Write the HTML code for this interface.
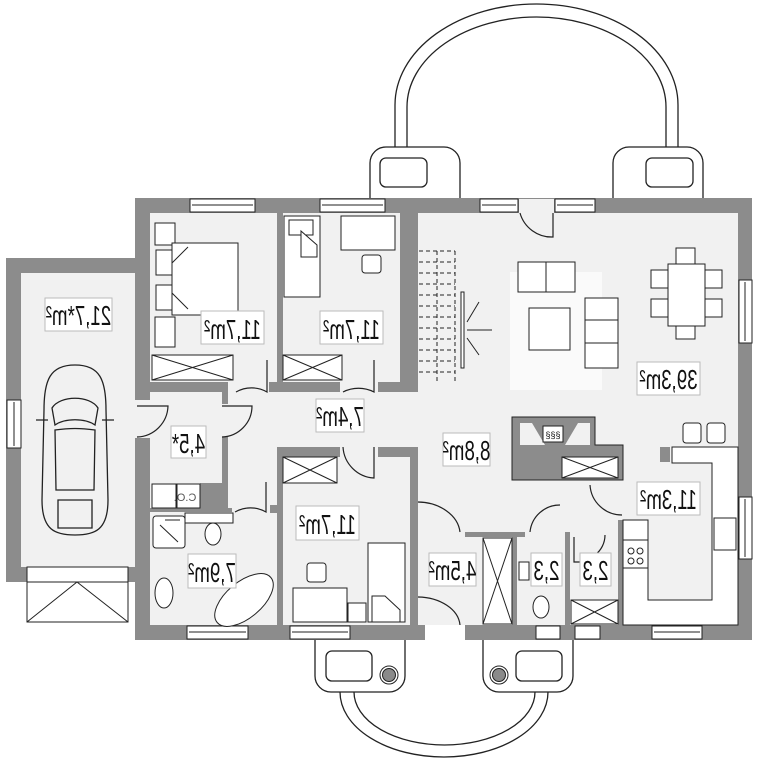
<!DOCTYPE html>
<html><head><meta charset="utf-8"><style>
html,body{margin:0;padding:0;background:#fff;}
svg{display:block;}
text{font-family:"Liberation Sans Narrow","Liberation Sans",sans-serif;font-weight:normal;font-size:24px;fill:#111;}
</style></head><body>
<svg width="760" height="760" viewBox="0 0 760 760" xmlns="http://www.w3.org/2000/svg">
<rect width="760" height="760" fill="#fff"/>
<g fill="none" stroke="#222" stroke-width="1.3">
<path d="M395 147 V105 A141.5 101 0 0 1 678 105 V147"/>
<path d="M407 147 V107 A129.5 90 0 0 1 666 107 V147"/>
<path d="M340 692 A104 65 0 0 0 548 692"/>
<path d="M354 692 A90.5 53 0 0 0 535 692"/>
</g>
<g fill="#fff" stroke="#222" stroke-width="1.3">
<path d="M370 198 V163 a16 16 0 0 1 16 -16 h58 a16 16 0 0 1 16 16 V198"/>
<rect x="380" y="158" width="47" height="29" rx="6"/>
<path d="M613 198 V163 a16 16 0 0 1 16 -16 h58 a16 16 0 0 1 16 16 V198"/>
<rect x="646" y="158" width="47" height="29" rx="6"/>
<path d="M315 640 V676 a16 16 0 0 0 16 16 h58 a16 16 0 0 0 16 -16 V640"/>
<rect x="326" y="651" width="46" height="30" rx="6"/>
<path d="M483 640 V676 a16 16 0 0 0 16 16 h58 a16 16 0 0 0 16 -16 V640"/>
<rect x="516" y="651" width="46" height="30" rx="6"/>
</g>
<circle cx="389" cy="675" r="9" fill="#fff" stroke="#222"/><circle cx="389" cy="675" r="6.5" fill="#8a8a8a" stroke="#222"/>
<circle cx="499" cy="675" r="9" fill="#fff" stroke="#222"/><circle cx="499" cy="675" r="6.5" fill="#8a8a8a" stroke="#222"/>
<rect x="6" y="258" width="130" height="324" fill="#8c8c8c"/>
<rect x="135" y="198" width="617" height="442" fill="#8c8c8c"/>
<rect x="21" y="273" width="114" height="294" fill="#f1f1f1"/>
<rect x="150" y="213" width="588" height="412" fill="#f1f1f1"/>
<rect x="510" y="272" width="92" height="118" fill="#fafafa"/>
<g fill="#8c8c8c">
<rect x="277" y="213" width="6" height="179"/>
<rect x="400" y="213" width="18" height="179"/>
<rect x="150" y="382" width="75" height="10"/>
<rect x="222" y="382" width="6" height="22"/>
<rect x="269" y="382" width="71" height="10"/>
<rect x="378" y="382" width="40" height="10"/>
<rect x="135" y="400" width="15" height="38" fill="#f1f1f1"/>
<rect x="222" y="437" width="6" height="47"/>
<rect x="200" y="483" width="28" height="27"/>
<rect x="150" y="508" width="82" height="4"/>
<rect x="270" y="505" width="7" height="8"/>
<rect x="277" y="447" width="63" height="10"/>
<rect x="378" y="447" width="40" height="10"/>
<rect x="277" y="447" width="6" height="178"/>
<rect x="410" y="447" width="8" height="178"/>
<rect x="465" y="532" width="60" height="5"/>
<rect x="512" y="532" width="5" height="93"/>
<rect x="565" y="532" width="5" height="93"/>
<rect x="618" y="520" width="5" height="105"/>
<rect x="660" y="447" width="10" height="15"/>
</g>
<g fill="#fff" stroke="#222" stroke-width="1">
<rect x="190" y="199" width="65" height="13"/><line x1="192" y1="205" x2="253" y2="205"/>
<rect x="320" y="199" width="65" height="13"/><line x1="322" y1="205" x2="383" y2="205"/>
<rect x="480" y="199" width="38" height="13"/><line x1="482" y1="205" x2="516" y2="205"/>
<rect x="555" y="199" width="40" height="13"/><line x1="557" y1="205" x2="593" y2="205"/>
<rect x="739" y="280" width="13" height="63"/><line x1="745" y1="282" x2="745" y2="341"/>
<rect x="739" y="497" width="13" height="62"/><line x1="745" y1="499" x2="745" y2="557"/>
<rect x="7" y="400" width="14" height="48"/><line x1="14" y1="402" x2="14" y2="446"/>
<rect x="187" y="626" width="61" height="13"/><line x1="189" y1="632" x2="246" y2="632"/>
<rect x="290" y="626" width="60" height="13"/><line x1="292" y1="632" x2="348" y2="632"/>
<rect x="536" y="626" width="24" height="13"/>
<rect x="575" y="626" width="25" height="13"/>
<rect x="652" y="626" width="50" height="13"/><line x1="654" y1="632" x2="700" y2="632"/>
</g>
<rect x="519" y="199" width="35" height="14" fill="#f1f1f1"/>
<rect x="425" y="625" width="40" height="15" fill="#fff"/>
<g fill="#fff" stroke="#222" stroke-width="1">
<rect x="27" y="567" width="101" height="15"/>
<rect x="27" y="582" width="101" height="40"/>
<path d="M27 622 L77 582 L128 622" fill="none"/>
</g>
<g fill="none" stroke="#222" stroke-width="1.2">
<path d="M553 213 V237 A33 33 0 0 1 520 213"/>
<path d="M267 360 V392 A31 31 0 0 0 236 392"/>
<path d="M374 360 V392 A34 34 0 0 0 343 392"/>
<path d="M137 406 H168 A32 32 0 0 1 137 437"/>
<path d="M222 406 H252 A31 31 0 0 1 222 437"/>
<path d="M266 482 V512 A31 31 0 0 0 235 512"/>
<path d="M374 447 V478 A33 33 0 0 1 343 447"/>
<path d="M418 502 A43 33 0 0 1 460 532"/>
<path d="M418 597 A43 30 0 0 1 460 625"/>
<path d="M530 532 A30 30 0 0 1 560 505"/>
<path d="M590 485 A32 32 0 0 0 622 515"/>
<path d="M605 535 A25 25 0 0 1 595 555"/>
<path d="M574 537 V562 H582"/>
</g>
<path d="M512 417 H595 V445 H623 V480 H512 Z" fill="#8c8c8c" stroke="#222"/>
<path d="M520 423 H532 L545 445 H565 L578 423 H590 V445 H520 Z" fill="#f1f1f1"/>
<rect x="543" y="426" width="20" height="16" fill="#fff" stroke="#222"/>
<text x="553" y="438" style="font-size:9px;font-weight:normal" text-anchor="middle">§§§</text>
<g fill="#fff" stroke="#222" stroke-width="1">
<rect x="562" y="457" width="56" height="21"/><path d="M562 457 L618 478 M562 478 L618 457"/>
<rect x="152" y="355" width="81" height="25"/><path d="M152 355 L233 380 M152 380 L233 355"/>
<rect x="283" y="355" width="59" height="25"/><path d="M283 355 L342 380 M283 380 L342 355"/>
<rect x="283" y="457" width="54" height="26"/><path d="M283 457 L337 483 M283 483 L337 457"/>
<rect x="483" y="538" width="29" height="86"/><path d="M483 538 L512 624 M512 538 L483 624"/>
<rect x="571" y="600" width="47" height="24"/><path d="M571 600 L618 624 M571 624 L618 600"/>
<path d="M672 447 H738 V625 H623 V520 H648 V600 H712 V463 H672 Z"/>
<rect x="623" y="540" width="25" height="28"/>
<rect x="714" y="518" width="22" height="32"/>
<rect x="683" y="423" width="18" height="20" rx="3"/><rect x="707" y="423" width="18" height="20" rx="3"/>
<rect x="155" y="223" width="20" height="22"/>
<rect x="156" y="250" width="18" height="25"/><rect x="156" y="285" width="18" height="25"/>
<rect x="172" y="243" width="66" height="72"/>
<path d="M188 247 L172 263 V293 L188 309"/>
<rect x="155" y="317" width="20" height="30"/>
<rect x="284" y="216" width="36" height="81"/>
<rect x="289" y="220" width="24" height="15"/>
<path d="M301 231 L317 245 V257 H301 Z"/>
<rect x="341" y="216" width="54" height="34"/>
<rect x="362" y="255" width="19" height="18" rx="3"/>
<rect x="368" y="543" width="37" height="79"/>
<rect x="293" y="588" width="54" height="34"/>
<rect x="307" y="563" width="19" height="19" rx="3"/>
<rect x="348" y="603" width="18" height="19"/>
<path d="M372 596 L385 596 L400 610 V622 H372 Z"/>
<rect x="153" y="516" width="32" height="32" rx="3"/>
<path d="M160 525 L178 542 M165 520 H180"/>
<rect x="185" y="513" width="48" height="10"/>
<ellipse cx="213" cy="534" rx="8" ry="11"/>
<ellipse cx="164" cy="593" rx="9" ry="15"/>
<ellipse cx="244" cy="600" rx="35" ry="18" transform="rotate(-40 244 600)"/>
<rect x="152" y="484" width="24" height="24"/>
<rect x="177" y="484" width="23" height="24"/>
<rect x="519" y="562" width="10" height="18"/>
<ellipse cx="541" cy="607" rx="8" ry="11"/>
<rect x="518" y="262" width="57" height="30"/>
<line x1="546" y1="262" x2="546" y2="292"/>
<rect x="529" y="308" width="41" height="42"/>
<rect x="585" y="298" width="33" height="70"/>
<line x1="585" y1="320" x2="618" y2="320"/><line x1="585" y1="343" x2="618" y2="343"/>
<rect x="668" y="264" width="37" height="62"/>
<rect x="676" y="248" width="19" height="16"/><rect x="676" y="326" width="19" height="13"/>
<rect x="651" y="270" width="17" height="18"/><rect x="651" y="299" width="17" height="18"/>
<rect x="705" y="270" width="17" height="18"/><rect x="705" y="299" width="17" height="18"/>
<rect x="461" y="292" width="3" height="76"/>
</g>
<circle cx="631" cy="551" r="3" fill="none" stroke="#222"/><circle cx="640" cy="551" r="3" fill="none" stroke="#222"/>
<circle cx="631" cy="561" r="3" fill="none" stroke="#222"/><circle cx="640" cy="561" r="3" fill="none" stroke="#222"/>
<g stroke="#222" stroke-width="1" stroke-dasharray="4 3" fill="none">
<path d="M419 251 H455 M419 262 H455 M419 273 H455 M419 284 H455 M419 295 H455 M419 306 H455 M419 317 H455 M419 328 H455 M419 339 H455 M419 350 H455 M419 361 H455 M419 372 H455"/>
<path d="M437 251 V382 M455 251 V382"/>
</g>
<path d="M467 330 H492 M467 322 L479 302 M467 338 L479 355" stroke="#222" fill="none"/>
<g fill="none" stroke="#222" stroke-width="1.3">
<path d="M75 365 C50 365 44 380 44 410 L42 500 C42 530 55 535 75 535 C95 535 108 530 108 500 L106 410 C106 380 100 365 75 365 Z"/>
<path d="M52 408 C60 395 90 395 98 408 L95 425 C85 418 65 418 55 425 Z"/>
<path d="M55 430 C70 428 80 428 95 430 L94 490 L56 490 Z"/>
<path d="M58 500 H92 V528 H58 Z"/>
<path d="M36 420 L48 420 M102 420 L114 420"/>
</g>
<g fill="#fff" stroke="#bbb" stroke-width="1">
<rect x="45" y="298" width="67" height="33"/>
<rect x="201" y="311" width="63" height="33"/>
<rect x="320" y="311" width="63" height="33"/>
<rect x="316" y="399" width="48" height="33"/>
<rect x="171" y="426" width="35" height="32"/>
<rect x="296" y="506" width="63" height="34"/>
<rect x="188" y="554" width="48" height="34"/>
<rect x="443" y="433" width="47" height="33"/>
<rect x="637" y="362" width="63" height="33"/>
<rect x="637" y="482" width="63" height="33"/>
<rect x="429" y="553" width="47" height="33"/>
<rect x="531" y="553" width="31" height="33"/>
<rect x="580" y="553" width="31" height="33"/>
</g>
<g text-anchor="middle">
<text transform="translate(78.5,325) scale(-0.78,1.15)">21,7*m²</text>
<text transform="translate(232.5,339) scale(-0.78,1.15)">11,7m²</text>
<text transform="translate(351.5,339) scale(-0.78,1.15)">11,7m²</text>
<text transform="translate(340,426) scale(-0.78,1.15)">7,4m²</text>
<text transform="translate(188.5,453) scale(-0.78,1.15)">4,5*</text>
<text transform="translate(327.5,534) scale(-0.78,1.15)">11,7m²</text>
<text transform="translate(212,582) scale(-0.78,1.15)">7,9m²</text>
<text transform="translate(466.5,460) scale(-0.78,1.15)">8,8m²</text>
<text transform="translate(668.5,389) scale(-0.78,1.15)">39,3m²</text>
<text transform="translate(668.5,509) scale(-0.78,1.15)">11,3m²</text>
<text transform="translate(452.5,580) scale(-0.78,1.15)">4,5m²</text>
<text transform="translate(546.5,580) scale(-0.78,1.15)">2,3</text>
<text transform="translate(595.5,580) scale(-0.78,1.15)">2,3</text>
<text transform="translate(185,501) scale(-1,1)" style="font-size:11px;font-weight:normal;fill:#555">C.O.</text>
</g>
</svg>
</body></html>
